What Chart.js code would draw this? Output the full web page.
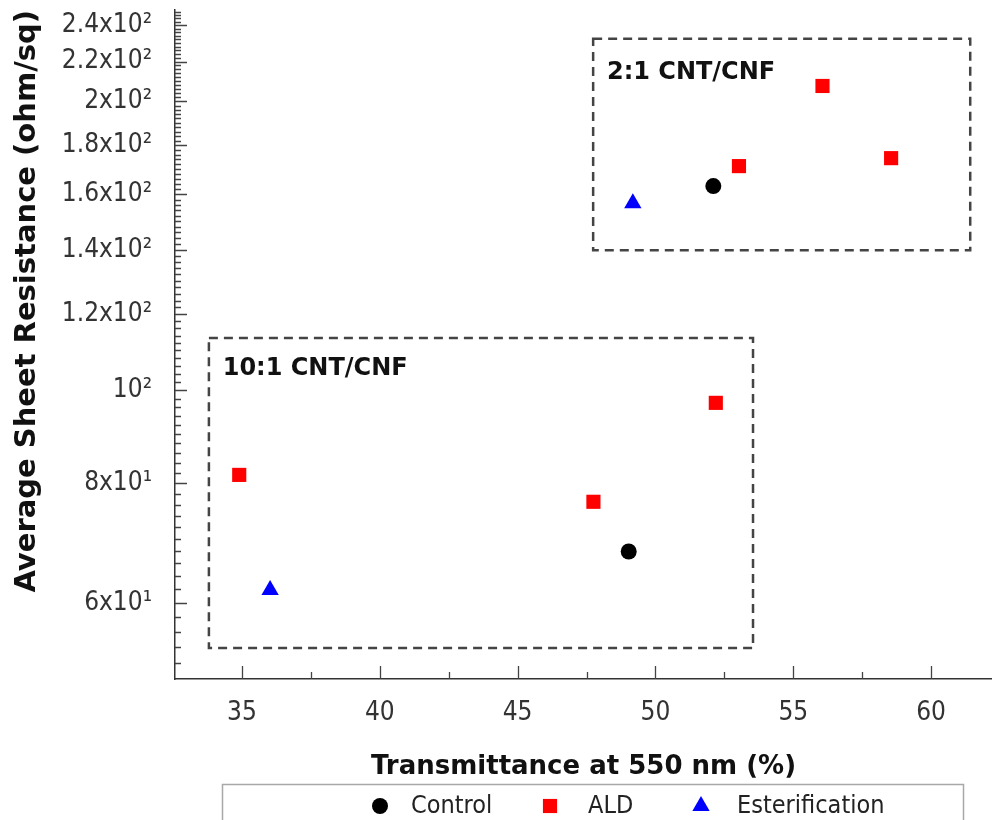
<!DOCTYPE html>
<html>
<head>
<meta charset="utf-8">
<script src="https://cdn.jsdelivr.net/npm/chart.js@4.4.0/dist/chart.umd.min.js"></script>
<style>
html, body { margin: 0; padding: 0; background: #fff; }
canvas { display: block; }
</style>
</head>
<body>
<canvas id="scatterChart" width="992" height="820"></canvas>
<script>
// values
const controlX = [52.10, 49.03];
const controlY = [163.2, 67.9];
const aldX = [56.06, 53.03, 58.55, 34.90, 47.75, 52.19];
const aldY = [207.5, 171.2, 174.5, 81.6, 76.5, 97.0];
const esterX = [49.18, 36.02];
const esterY = [156.6, 61.9];

const xTicks = [35, 40, 45, 50, 55, 60];
const yTicks = [60, 80, 100, 120, 140, 160, 180, 200, 220, 240];
const yTickLabels = ['6x10¹', '8x10¹', '10²', '1.2x10²', '1.4x10²', '1.6x10²', '1.8x10²', '2x10²', '2.2x10²', '2.4x10²'];

// dashed group boxes: [xmin, xmax, ymin, ymax] in data units
const groupNames = ['2:1 CNT/CNF', '10:1 CNT/CNF'];
const groupBoxes = [[47.74, 61.42, 139.9, 232.4], [33.80, 53.54, 53.85, 113.3]];
const groupLabelAt = [[48.24, 214.4], [34.30, 105.2]];

const legendNames = ['Control', 'ALD', 'Esterification'];

const toPoints = (xs, ys) => xs.map((x, i) => ({x: x, y: ys[i]}));

const regular = "'DejaVu Sans Condensed', 'DejaVu Sans', sans-serif";
const bold = "'DejaVu Sans', sans-serif";

function marker(ctx, style, x, y, r) {
    ctx.beginPath();
    if (style === 'circle') {
        ctx.arc(x, y, r, 0, Math.PI * 2);
    } else if (style === 'rect') {
        const s = r * Math.SQRT1_2;
        ctx.rect(x - s, y - s, 2 * s, 2 * s);
    } else {
        ctx.moveTo(x, y - r);
        ctx.lineTo(x + r * Math.sin(Math.PI * 2 / 3), y - r * Math.cos(Math.PI * 2 / 3));
        ctx.lineTo(x + r * Math.sin(Math.PI * 4 / 3), y - r * Math.cos(Math.PI * 4 / 3));
        ctx.closePath();
    }
    ctx.fill();
}

const decorations = {
    id: 'decorations',
    beforeDatasetsDraw(chart) {
        const ctx = chart.ctx;
        const xs = chart.scales.x, ys = chart.scales.y;
        const area = chart.chartArea;
        ctx.save();
        // inward tick marks
        ctx.strokeStyle = '#444';
        ctx.lineWidth = 1.3;
        ctx.beginPath();
        for (let v = 37.5; v < xs.max; v += 5) {
            const px = Math.round(xs.getPixelForValue(v)) + 0.5;
            ctx.moveTo(px, area.bottom); ctx.lineTo(px, area.bottom - 7);
        }
        xTicks.forEach(v => {
            const px = Math.round(xs.getPixelForValue(v)) + 0.5;
            ctx.moveTo(px, area.bottom); ctx.lineTo(px, area.bottom - 13);
        });
        for (let v = 52; v < ys.max; v += 2) {
            if (yTicks.includes(v)) continue;
            const py = Math.round(ys.getPixelForValue(v)) + 0.5;
            ctx.moveTo(area.left, py); ctx.lineTo(area.left + 6, py);
        }
        yTicks.forEach(v => {
            const py = Math.round(ys.getPixelForValue(v)) + 0.5;
            ctx.moveTo(area.left, py); ctx.lineTo(area.left + 12, py);
        });
        ctx.stroke();

        // dashed group boxes and their labels
        ctx.strokeStyle = '#444';
        ctx.lineWidth = 2.5;
        ctx.setLineDash([9, 6]);
        groupBoxes.forEach(b => {
            const l = xs.getPixelForValue(b[0]), r = xs.getPixelForValue(b[1]);
            const t = ys.getPixelForValue(b[3]), btm = ys.getPixelForValue(b[2]);
            ctx.strokeRect(l, t, r - l, btm - t);
        });
        ctx.setLineDash([]);
        ctx.fillStyle = '#111';
        ctx.font = 'bold 24px ' + bold;
        ctx.textAlign = 'left';
        ctx.textBaseline = 'middle';
        groupNames.forEach((name, i) => {
            ctx.fillText(name, xs.getPixelForValue(groupLabelAt[i][0]), ys.getPixelForValue(groupLabelAt[i][1]));
        });
        ctx.restore();
    },
    afterDraw(chart) {
        const ctx = chart.ctx;
        const ds = chart.data.datasets;
        ctx.save();
        // legend box
        ctx.strokeStyle = '#a8a8a8';
        ctx.lineWidth = 1.5;
        ctx.strokeRect(222.5, 784.5, 741, 60);
        const markX = [380, 550, 701];
        const textX = [411, 588, 737];
        const cy = 806;
        ctx.font = '25px ' + regular;
        ctx.textAlign = 'left';
        ctx.textBaseline = 'middle';
        ds.forEach((d, i) => {
            ctx.fillStyle = d.backgroundColor;
            marker(ctx, d.pointStyle, markX[i], cy, d.pointRadius);
            ctx.fillStyle = '#222';
            ctx.fillText(legendNames[i], textX[i], cy);
        });
        ctx.restore();
    }
};

const ctx = document.getElementById('scatterChart').getContext('2d');
const resistanceChart = new Chart(ctx, {
    type: 'scatter',
    data: {
        datasets: [{
            label: legendNames[0],
            data: toPoints(controlX, controlY),
            pointStyle: 'circle',
            pointRadius: 8,
            backgroundColor: '#000000',
            borderWidth: 0
        }, {
            label: legendNames[1],
            data: toPoints(aldX, aldY),
            pointStyle: 'rect',
            pointRadius: 10,
            backgroundColor: '#ff0000',
            borderWidth: 0
        }, {
            label: legendNames[2],
            data: toPoints(esterX, esterY),
            pointStyle: 'triangle',
            pointRadius: 10,
            backgroundColor: '#0000ff',
            borderWidth: 0
        }]
    },
    options: {
        responsive: false,
        animation: false,
        devicePixelRatio: 1,
        layout: {
            autoPadding: false,
            padding: {top: 10, right: 0, bottom: 36, left: 0}
        },
        font: {family: regular},
        scales: {
            x: {
                type: 'linear',
                min: 32.57,
                max: 62.21,
                afterBuildTicks: s => { s.ticks = xTicks.map(v => ({value: v})); },
                afterFit: s => { s.height = 105; s.paddingLeft = 0; s.paddingRight = 0; },
                grid: {display: false},
                border: {color: '#333', width: 1.5},
                ticks: {
                    padding: 11,
                    color: '#333',
                    autoSkip: false,
                    maxRotation: 0,
                    font: {family: regular, size: 26}
                },
                title: {
                    display: true,
                    text: 'Transmittance at 550 nm (%)',
                    color: '#111',
                    font: {family: bold, size: 26, weight: 'bold'},
                    padding: {top: 0, bottom: 1}
                }
            },
            y: {
                type: 'logarithmic',
                min: 50,
                max: 249,
                afterBuildTicks: s => { s.ticks = yTicks.map(v => ({value: v})); },
                afterFit: s => { s.width = 175; s.paddingTop = 0; s.paddingBottom = 0; },
                grid: {display: false},
                border: {color: '#333', width: 1.5},
                ticks: {
                    padding: 15,
                    color: '#333',
                    autoSkip: false,
                    font: {family: regular, size: 26},
                    callback: (value, index) => yTickLabels[index]
                },
                title: {
                    display: true,
                    text: 'Average Sheet Resistance (ohm/sq)',
                    align: 'end',
                    color: '#111',
                    font: {family: bold, size: 29, weight: 'bold'},
                    padding: {top: 10, bottom: 0}
                }
            }
        },
        plugins: {
            legend: {display: false},
            tooltip: {enabled: false}
        }
    },
    plugins: [decorations]
});
</script>
</body>
</html>
